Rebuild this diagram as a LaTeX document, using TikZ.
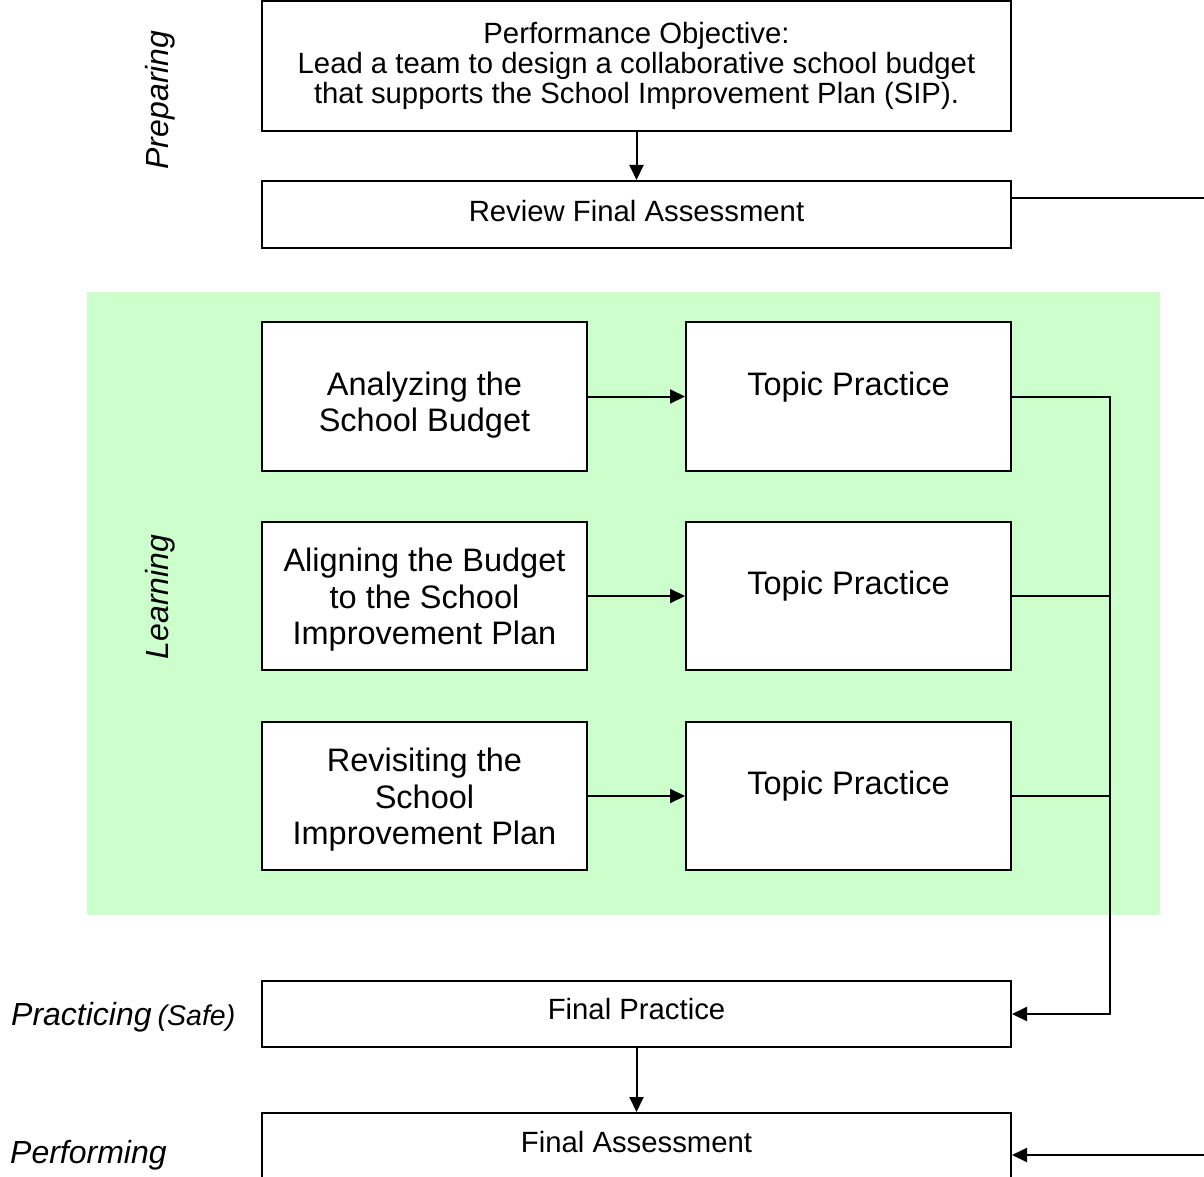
\documentclass[tikz,border=0pt]{standalone}
\usepackage{fontspec}
\setmainfont{Liberation Sans}
\usetikzlibrary{arrows.meta}
\definecolor{greenbg}{HTML}{CCFFCC}
\tikzset{
  box/.style={draw=black, line width=2pt, fill=white, inner sep=0pt},
  txt/.style={inner sep=0pt, align=center},
  smalltext/.style={txt, font=\fontsize{29.3}{30}\selectfont},
  bigtext/.style={txt, font=\fontsize{32.5}{36.5}\selectfont},
  phase/.style={font=\fontsize{32}{36}\selectfont\itshape, inner sep=0pt},
  conn/.style={line width=2pt},
  arr/.style={conn, -{Triangle[length=15pt,width=14pt]}}
}
\begin{document}
\begin{tikzpicture}[x=1pt,y=-1pt]
\useasboundingbox (0,0) rectangle (1204,1177);
\clip (0,0) rectangle (1204,1177);
% green learning area
\fill[greenbg] (87,292) rectangle (1160,915);
% top boxes
\node[box, minimum width=749pt, minimum height=130pt] (PO) at (636.5,66) {};
\node[smalltext] (POt) at (636.5,65.5) {Performance Objective:\\Lead a team to design a collaborative school budget\\that supports the School Improvement Plan (SIP).};
\node[box, minimum width=749pt, minimum height=67pt] (RFA) at (636.5,214.5) {};
\node[smalltext] (RFAt) at (636.5,211) {Review Final Assessment};
% learning rows
\node[box, minimum width=325pt, minimum height=149pt] (L1) at (424.5,396.5) {};
\node[box, minimum width=325pt, minimum height=149pt] (R1) at (848.5,396.5) {};
\node[box, minimum width=325pt, minimum height=148pt] (L2) at (424.5,596) {};
\node[box, minimum width=325pt, minimum height=148pt] (R2) at (848.5,596) {};
\node[box, minimum width=325pt, minimum height=148pt] (L3) at (424.5,796) {};
\node[box, minimum width=325pt, minimum height=148pt] (R3) at (848.5,796) {};
\node[bigtext] (L1t) at (424.5,405) {Analyzing the\\School Budget};
\node[bigtext] (R1t) at (848.5,387.5) {Topic Practice};
\node[bigtext] (L2t) at (424.5,600) {Aligning the Budget\\to the School\\Improvement Plan};
\node[bigtext] (R2t) at (848.5,586.5) {Topic Practice};
\node[bigtext] (L3t) at (424.5,800) {Revisiting the\\School\\Improvement Plan};
\node[bigtext] (R3t) at (848.5,786.5) {Topic Practice};
% bottom boxes
\node[box, minimum width=749pt, minimum height=66pt] (FP) at (636.5,1014) {};
\node[smalltext] (FPt) at (636.5,1009.5) {Final Practice};
\node[box, minimum width=749pt, minimum height=67pt] (FA) at (636.5,1146.5) {};
\node[smalltext] (FAt) at (636.5,1142) {Final Assessment};
% phase labels
\node[phase, rotate=90] (lprep) at (160,100) {Preparing};
\node[phase, rotate=90] (llearn) at (160,597) {Learning};
\node[phase, anchor=base west] (lprac) at (11,1025) {Practicing\hspace{6pt}{\fontsize{28.5}{30}\selectfont (Safe)}};
\node[phase, anchor=base west] (lperf) at (10,1163) {Performing};
% connectors
\draw[arr] (PO.south) -- (RFA.north);
\draw[arr] (L1.east) -- (R1.west);
\draw[arr] (L2.east) -- (R2.west);
\draw[arr] (L3.east) -- (R3.west);
\coordinate (bus) at (1110,0);
\draw[arr] (R1.east) -- (R1.east -| bus) -- (FP.east -| bus) -- (FP.east);
\draw[conn] (R2.east) -- (R2.east -| bus);
\draw[conn] (R3.east) -- (R3.east -| bus);
\draw[arr] (FP.south) -- (FA.north);
\coordinate (offA) at (1206,198);
\coordinate (offB) at (1206,1155);
\draw[conn] (offA -| RFA.east) -- (offA);
\draw[arr] (offB) -- (offB -| FA.east);
\end{tikzpicture}
\end{document}
